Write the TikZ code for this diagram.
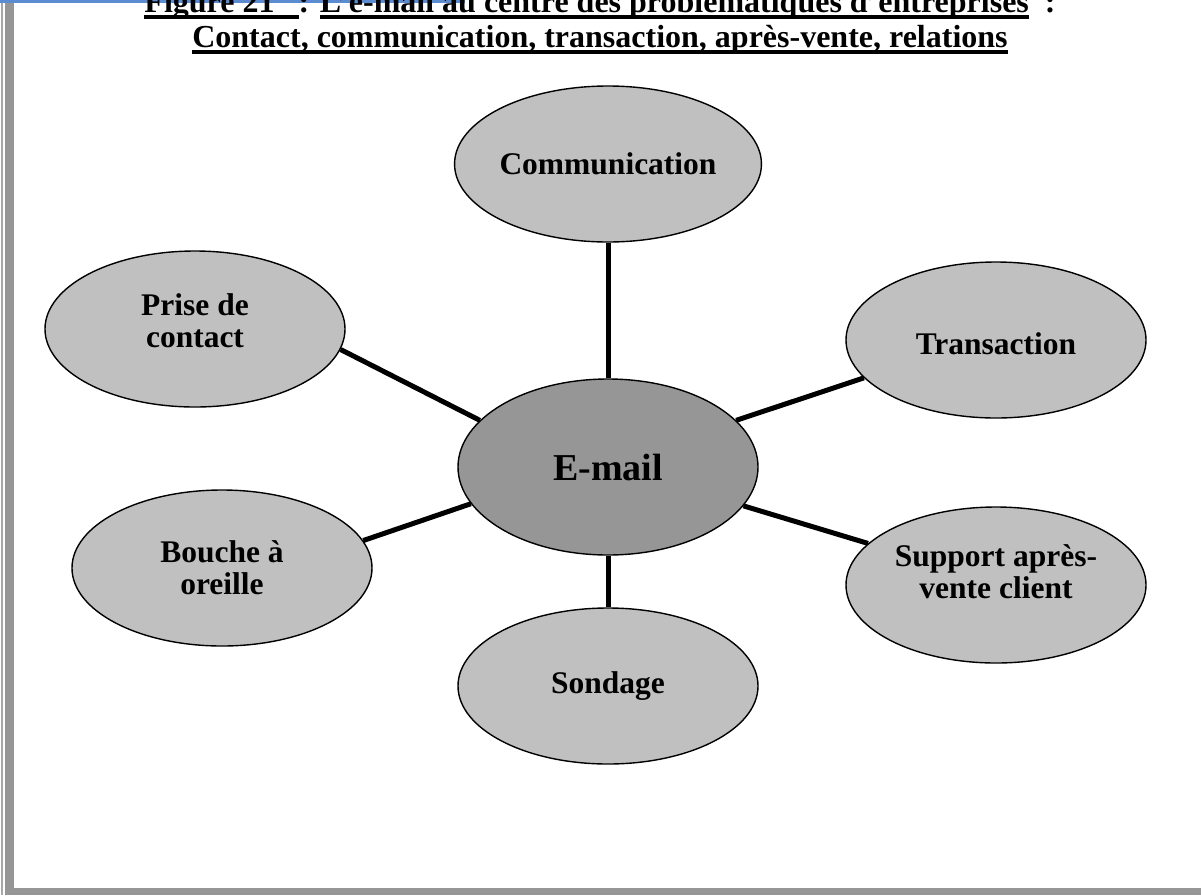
\documentclass[tikz,border=0pt]{standalone}
\usepackage{fontspec}
\setmainfont{Liberation Serif}
\usetikzlibrary{shapes.geometric}
\definecolor{bubblegray}{HTML}{C0C0C0}
\definecolor{hubgray}{HTML}{969696}
\definecolor{framegray}{HTML}{969696}
\definecolor{thingray}{HTML}{A8A8A8}
\definecolor{barblue}{HTML}{5B8BD0}
% thick underline under a piece of the heading
\newcommand\titlerule[1]{\setbox0\hbox{#1}\rlap{\rule[-7.3pt]{\wd0}{4.3pt}}\box0}
\pgfdeclarelayer{background}
\pgfsetlayers{background,main}
\begin{document}
\begin{tikzpicture}[x=1pt,y=-1pt,
  bubble/.style={ellipse, draw=black, line width=1.4pt, fill=bubblegray,
    minimum width=300pt, minimum height=156pt, inner sep=0pt, align=center,
    font=\fontsize{31.5}{32}\selectfont\bfseries},
  hub/.style={bubble, fill=hubgray, minimum height=176pt,
    font=\fontsize{38}{40}\selectfont\bfseries},
  spoke/.style={line width=5pt, black},
  heading/.style={anchor=base, inner sep=0pt, font=\fontsize{32}{35}\selectfont\bfseries}]
\useasboundingbox (0,0) rectangle (1201,895);

% page frame
\fill[framegray] (5,0) rectangle (14,895);
\fill[framegray] (5,888) rectangle (1201,895);
\fill[thingray] (1,0) rectangle (2.5,895);
\fill[barblue] (0,0) rectangle (465,2.5);

% heading
\begin{scope}
\clip (0,0) rectangle (1201,895);
\node[heading] (title1) at (600,12)
  {\titlerule{Figure 21\ \ \ } : \titlerule{L'e-mail au centre des problématiques d'entreprises}\ \ :};
\node[heading] (title2) at (600,47)
  {\titlerule{Contact, communication, transaction, après-vente, relations}};
\end{scope}

% bubbles
\node[bubble] (comm) at (608,164) {Communication};
\node[bubble] (prise) at (195,329) {\raisebox{4pt}[\height][\depth]{\begin{tabular}{@{}c@{}}Prise de\\contact\end{tabular}}};
\node[bubble] (trans) at (996,340) {\raisebox{-4pt}[\height][\depth]{Transaction}};
\node[hub] (email) at (608,467) {E-mail};
\node[bubble] (bouche) at (222,568) {Bouche à\\oreille};
\node[bubble] (support) at (996,585) {\raisebox{9pt}[\height][\depth]{\begin{tabular}{@{}c@{}}Support après-\\vente client\end{tabular}}};
\node[bubble] (sondage) at (608,686) {Sondage};

% spokes to the hub
\begin{pgfonlayer}{background}
\draw[spoke] (comm.south) -- (email.north);
\draw[spoke] (sondage.north) -- (email.south);
\draw[spoke] (prise.352) -- (email.160);
\draw[spoke] (trans.196) -- (email.20);
\draw[spoke] (bouche.11) -- (email.195);
\draw[spoke] (support.162) -- (email.344);
\end{pgfonlayer}
\end{tikzpicture}
\end{document}
